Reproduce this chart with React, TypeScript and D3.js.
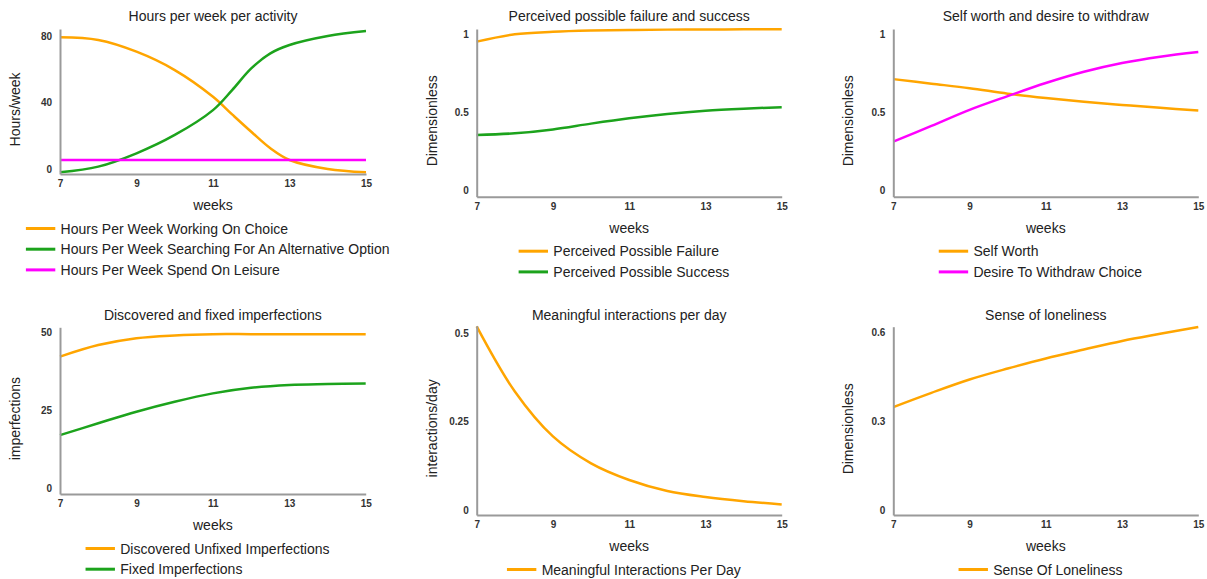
import React, { useRef, useEffect } from 'react';
import * as d3 from 'd3';

// weeks sampled 7..15
const weeks = [7, 8, 9, 10, 11, 11.5, 12, 12.5, 13, 14, 15];

// panel 1 - hours per week
const hoursWorking = [79.2, 77.6, 70.6, 59.6, 43.6, 33, 22.6, 12.7, 5.7, 0.3, -1.7];
const hoursSearching = [-1.7, 1.7, 9.7, 20.7, 35.6, 47.6, 60.6, 69.6, 74.6, 80, 83];
const hoursLeisure = [5.7, 5.7, 5.7, 5.7, 5.7, 5.7, 5.7, 5.7, 5.7, 5.7, 5.7];

// panel 2 - perceived failure / success
const weeks2 = [7, 8, 9, 10, 11, 12, 13, 14, 15];
const perceivedFailure = [0.955, 1.002, 1.018, 1.026, 1.03, 1.032, 1.033, 1.034, 1.035];
const perceivedSuccess = [0.357, 0.368, 0.393, 0.43, 0.464, 0.492, 0.513, 0.526, 0.535];

// panel 3 - self worth / withdraw
const selfWorth = [0.715, 0.686, 0.657, 0.622, 0.594, 0.57, 0.55, 0.531, 0.514];
const desireWithdraw = [0.315, 0.415, 0.518, 0.606, 0.69, 0.762, 0.818, 0.859, 0.889];

// panel 4 - imperfections
const unfixedImperfections = [42.3, 46, 48.2, 49.1, 49.5, 49.5, 49.5, 49.5, 49.5];
const fixedImperfections = [17.1, 20.9, 24.6, 27.8, 30.5, 32.3, 33.2, 33.5, 33.7];

// panel 5 - interactions
const interactions = [0.519, 0.335, 0.208, 0.132, 0.085, 0.054, 0.037, 0.025, 0.016];

// panel 6 - loneliness
const loneliness = [0.347, 0.395, 0.44, 0.477, 0.511, 0.541, 0.57, 0.594, 0.617];

const xTicks = [7, 9, 11, 13, 15];

const ORANGE = '#ffa500';
const GREEN = '#1ca31c';
const MAGENTA = '#ff00ff';
const FONT = 'Arial, "Liberation Sans", sans-serif';

const panels = [
  {
    title: 'Hours per week per activity', ylabel: 'Hours/week',
    yDomain: [-2.7, 84.2], yTicks: [0, 40, 80],
    series: [
      { name: 'Hours Per Week Working On Choice', x: weeks, y: hoursWorking, color: ORANGE },
      { name: 'Hours Per Week Searching For An Alternative Option', x: weeks, y: hoursSearching, color: GREEN },
      { name: 'Hours Per Week Spend On Leisure', x: weeks, y: hoursLeisure, color: MAGENTA },
    ],
    box: { left: 60, right: 366, top: 29, bottom: 174, titleY: 16 },
  },
  {
    title: 'Perceived possible failure and success', ylabel: 'Dimensionless',
    yDomain: [-0.038, 1.036], yTicks: [0, 0.5, 1],
    series: [
      { name: 'Perceived Possible Failure', x: weeks2, y: perceivedFailure, color: ORANGE },
      { name: 'Perceived Possible Success', x: weeks2, y: perceivedSuccess, color: GREEN },
    ],
    box: { left: 476.7, right: 781.7, top: 29, bottom: 196.7, titleY: 16 },
  },
  {
    title: 'Self worth and desire to withdraw', ylabel: 'Dimensionless',
    yDomain: [-0.038, 1.036], yTicks: [0, 0.5, 1],
    series: [
      { name: 'Self Worth', x: weeks2, y: selfWorth, color: ORANGE },
      { name: 'Desire To Withdraw Choice', x: weeks2, y: desireWithdraw, color: MAGENTA },
    ],
    box: { left: 893.3, right: 1198.3, top: 29, bottom: 196.7, titleY: 16 },
  },
  {
    title: 'Discovered and fixed imperfections', ylabel: 'imperfections',
    yDomain: [-1.8, 51.7], yTicks: [0, 25, 50],
    series: [
      { name: 'Discovered Unfixed Imperfections', x: weeks2, y: unfixedImperfections, color: ORANGE },
      { name: 'Fixed Imperfections', x: weeks2, y: fixedImperfections, color: GREEN },
    ],
    box: { left: 60, right: 365.7, top: 327.3, bottom: 494, titleY: 315 },
  },
  {
    title: 'Meaningful interactions per day', ylabel: 'interactions/day',
    yDomain: [-0.014, 0.521], yTicks: [0, 0.25, 0.5],
    series: [
      { name: 'Meaningful Interactions Per Day', x: weeks2, y: interactions, color: ORANGE },
    ],
    box: { left: 476.7, right: 781.7, top: 325.7, bottom: 515, titleY: 315 },
  },
  {
    title: 'Sense of loneliness', ylabel: 'Dimensionless',
    yDomain: [-0.017, 0.618], yTicks: [0, 0.3, 0.6],
    series: [
      { name: 'Sense Of Loneliness', x: weeks2, y: loneliness, color: ORANGE },
    ],
    box: { left: 893.3, right: 1198.3, top: 326.7, bottom: 515, titleY: 315 },
  },
];

const App = () => {
  const svgRef = useRef<SVGSVGElement>(null);

  useEffect(() => {
    const svg = d3.select(svgRef.current);
    svg.selectAll('*').remove();

    panels.forEach(p => {
      const b = p.box;
      const g = svg.append('g');

      const x = d3.scaleLinear().domain([7, 15]).range([b.left, b.right]);
      const y = d3.scaleLinear().domain(p.yDomain).range([b.bottom, b.top]);

      const line = d3.line().curve(d3.curveCatmullRom.alpha(0.5));

      // series lines
      p.series.forEach(s => {
        const pts: [number, number][] = s.x.map((w, i) => [x(w), y(s.y[i])]);
        g.append('path')
          .attr('d', line(pts))
          .attr('fill', 'none')
          .attr('stroke', s.color)
          .attr('stroke-width', 2.5);
      });

      // axes
      const yAxis = g.append('g')
        .attr('transform', `translate(${b.left},0)`)
        .call(d3.axisLeft(y).tickValues(p.yTicks).tickFormat(d3.format('~g'))
          .tickSize(0).tickSizeOuter(0).tickPadding(8));
      const xAxis = g.append('g')
        .attr('transform', `translate(0,${b.bottom})`)
        .call(d3.axisBottom(x).tickValues(xTicks).tickSize(0).tickSizeOuter(0).tickPadding(6));

      [xAxis, yAxis].forEach(a => {
        a.select('.domain').attr('stroke', '#9a9a9a').attr('stroke-width', 2);
        a.selectAll('text')
          .attr('font-family', FONT)
          .attr('font-size', 10)
          .attr('font-weight', 'bold')
          .attr('fill', '#333');
      });

      // title
      g.append('text')
        .attr('x', (b.left + b.right) / 2)
        .attr('y', b.titleY)
        .attr('text-anchor', 'middle')
        .attr('dominant-baseline', 'central')
        .attr('font-family', FONT)
        .attr('font-size', 14)
        .attr('fill', '#222')
        .text(p.title);

      // x label
      g.append('text')
        .attr('x', (b.left + b.right) / 2)
        .attr('y', b.bottom + 31)
        .attr('text-anchor', 'middle')
        .attr('dominant-baseline', 'central')
        .attr('font-family', FONT)
        .attr('font-size', 14)
        .attr('fill', '#222')
        .text('weeks');

      // y label
      const ly = (b.top + b.bottom) / 2 + 8;
      g.append('text')
        .attr('transform', `translate(${b.left - 45},${ly}) rotate(-90)`)
        .attr('text-anchor', 'middle')
        .attr('dominant-baseline', 'central')
        .attr('font-family', FONT)
        .attr('font-size', 14)
        .attr('fill', '#222')
        .text(p.ylabel);

      // legend
      const leg = g.append('g');
      p.series.forEach((s, i) => {
        const row = leg.append('g').attr('transform', `translate(0,${b.bottom + 54.5 + i * 20.7})`);
        row.append('line')
          .attr('x1', 0).attr('x2', 29.4)
          .attr('stroke', s.color)
          .attr('stroke-width', 3);
        row.append('text')
          .attr('x', 34.7)
          .attr('dominant-baseline', 'central')
          .attr('font-family', FONT)
          .attr('font-size', 14)
          .attr('fill', '#222')
          .text(s.name);
      });
      const w = (leg.node() as SVGGElement).getBBox().width;
      leg.attr('transform', `translate(${(b.left + b.right) / 2 - 5.3 - w / 2},0)`);
    });
  }, []);

  return (
    <svg ref={svgRef} width={1207} height={579}
      style={{ position: 'absolute', left: 0, top: 0, background: '#fff' }} />
  );
};

export default App;
